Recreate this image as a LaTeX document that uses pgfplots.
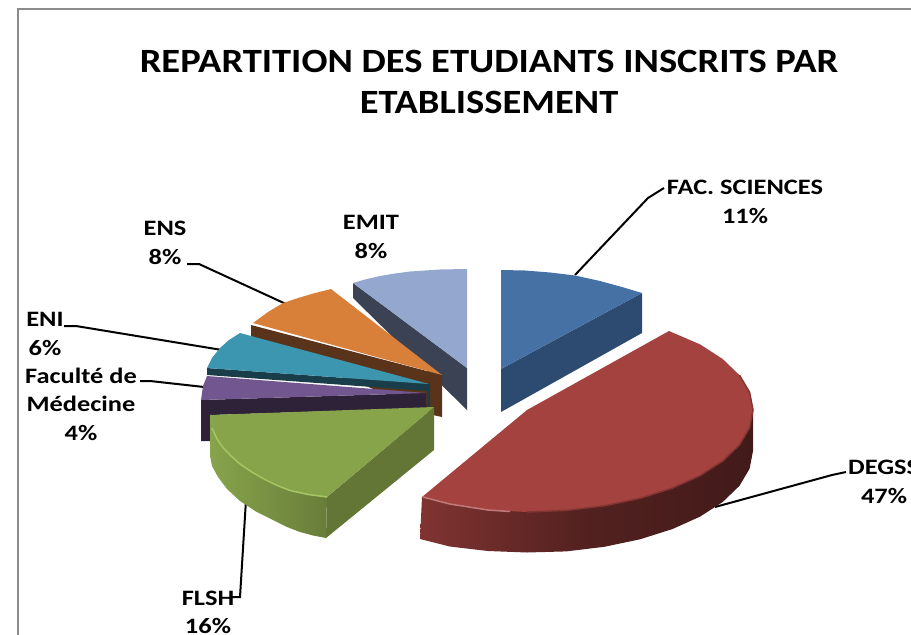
\documentclass[border=0pt]{standalone}
\usepackage{fontspec}
\setmainfont{Carlito}
\usepackage{pgfplots}
\pgfplotsset{compat=1.18}
\definecolor{emitT}{HTML}{93A7CF}\definecolor{emitS}{HTML}{3A4254}
\definecolor{facT}{HTML}{4571A5}\definecolor{facS}{HTML}{2D4A70}
\definecolor{degT}{HTML}{A4423F}
\definecolor{ensT}{HTML}{D8803A}\definecolor{ensS}{HTML}{59331A}
\definecolor{eniT}{HTML}{3D96AF}\definecolor{eniS}{HTML}{1A3D4A}
\definecolor{medT}{HTML}{72568F}\definecolor{medS}{HTML}{2E2238}
\definecolor{flsT}{HTML}{87A44B}\definecolor{flsS}{HTML}{637636}
\definecolor{flsH}{HTML}{A6C664}
\newcommand{\ttl}[1]{\scalebox{1.133}[1]{\bfseries\fontsize{34}{34}\selectfont #1}}
\newcommand{\lbl}[1]{\scalebox{1.2}[1]{\bfseries\fontsize{22}{22}\selectfont #1}}
\begin{document}
\begin{tikzpicture}
\path[use as bounding box,clip] (0,0) rectangle (911pt,635pt);
\begin{axis}[at={(0,0)},anchor=south west,scale only axis,width=911pt,height=635pt,
  xmin=0,xmax=911,ymin=0,ymax=635,y dir=reverse,axis lines=none,clip=false,no markers,
  every axis plot/.append style={forget plot}]
% frame
\addplot[draw=black!45,line width=2pt] coordinates {(911,9)(18,9)(18,635)};
% leaders
\addplot[black,line width=2pt] coordinates {(575,275)(648,198)(664,188)};
\addplot[black,line width=2pt] coordinates {(715,507)(832,475)(846,472)};
\addplot[black,line width=2pt] coordinates {(246,500)(240,597)(232,597)};
\addplot[black,line width=2pt] coordinates {(222,350)(76,326)(64,326)};
\addplot[black,line width=2pt] coordinates {(204,387)(150,381)(140,381)};
\addplot[black,line width=2pt] coordinates {(286,304)(199,264)(187,264)};
% EMIT
\addplot[fill=emitS,draw=none] coordinates {(353,283)(353,298)(467,410)(467,368)};
\addplot[fill=emitT,draw=none] coordinates {(353,283)(365,279.5)(380,276)(395,273.5)(410,271.5)(425,270.5)(440,269.5)(467,269)(467,368)};
% FAC
\addplot[fill=facS,draw=none] coordinates {(501,369)(642,293)(642,333)(501,412)};
\addplot[fill=facT,draw=none] coordinates {(501,270)(525,270.5)(550,272.5)(575,275.5)(600,281)(622,287)(642,293)(501,369)};
% ENS
\addplot[fill=ensS,draw=none] coordinates {(251,325)(251,336)(433,415)(442,417)(442,375)};
\addplot[fill=ensT,draw=none] coordinates {(331,289)(315,293)(298,298)(283,303)(268,312)(253,323)(442,375)};
% ENI
\addplot[fill=eniS,draw=none] coordinates {(207,368)(207,375)(427,391)(427,408)(430,408)(430,384)};
\addplot[fill=eniT,draw=none] coordinates {(240,333)(229,340)(220,348)(212,358)(207,368)(429,384)};
% Medecine
\addplot[fill=medS,draw=none] coordinates {(201,400)(201,441)(212,441)(212,415)(426,408)(426,393)};
\addplot[fill=medT,draw=none] coordinates {(207,376)(203,386)(201,400)(426,393)};
% FLSH
\addplot[fill=flsS,draw=none] coordinates {(327,497)(434,407)(434,450)(326,538)};
\addplot[left color=flsT,right color=flsS!85!flsT,draw=none,shading=axis] coordinates {(210,415)(210,456)(212,466)(218,477)(227,489)(240,501)(256,511.5)(273,520)(287,527)(300,532)(313,535.5)(326,538)(327,497)};
\addplot[fill=flsT,draw=none] coordinates {(434,407)(210,415)(210.5,421)(213,430)(217,439)(223,447.5)(231,456)(240,464)(251,471.5)(263,478.5)(276,485)(290,490.5)(308,494.5)(327,497)};
\addplot[draw=flsH,line width=1.5pt] coordinates {(212,428)(217,439)(223,447.5)(231,456)(240,464)(251,471.5)(263,478.5)(276,485)(290,490.5)(308,494.5)(327,497)};
% DEGSS
\addplot[left color=degT!78!black,right color=degT!40!black,middle color=degT!50!black,draw=none,shading=axis] coordinates {(753,408)(753,451)(749.6,468.7)(739.4,485.9)(722.7,502)(700.1,516.6)(672.3,529.1)(640,539.3)(604.3,546.8)(566.2,551.4)(527,552.5)(487.8,551)(449.7,546.5)(420,539)(422,497)};
\addplot[fill=degT,draw=none] coordinates {(527,410)(669,331)(700.1,344.4)(722.7,359)(739.4,375.1)(749.6,392.3)(753,410)(749.6,427.7)(739.4,444.9)(722.7,461)(700.1,475.6)(672.3,488.1)(640,498.3)(604.3,505.8)(566.2,510.4)(527,512)(487.8,510)(449.7,504)(422,497)};
\addplot[draw=degT!80!black,line width=1.5pt] coordinates {(739.4,375.1)(749.6,392.3)(753,410)(749.6,427.7)(739.4,444.9)(722.7,461)(700.1,475.6)(672.3,488.1)(640,498.3)(604.3,505.8)(566.2,510.4)(527,512)};
\addplot[draw=degT!70!white,line width=1.5pt] coordinates {(423,497)(449.7,504)(487.8,510)(510,511.5)};
% text
\node[anchor=base] at (axis cs:489,72) {\ttl{REPARTITION DES ETUDIANTS INSCRITS PAR}};
\node[anchor=base] at (axis cs:489,113) {\ttl{ETABLISSEMENT}};
\tikzset{lab/.style={anchor=base}}
\node[lab] at (axis cs:745,194) {\lbl{FAC. SCIENCES}};
\node[lab] at (axis cs:745,223) {\lbl{11\%}};
\node[lab,anchor=base west,inner sep=0pt] at (axis cs:848,474) {\lbl{DEGSS}};
\node[lab] at (axis cs:884,503) {\lbl{47\%}};
\node[lab] at (axis cs:208,605) {\lbl{FLSH}};
\node[lab] at (axis cs:208,633) {\lbl{16\%}};
\node[lab] at (axis cs:81,383) {\lbl{Faculté de}};
\node[lab] at (axis cs:81,411) {\lbl{Médecine}};
\node[lab] at (axis cs:81,440) {\lbl{4\%}};
\node[lab] at (axis cs:45,326) {\lbl{ENI}};
\node[lab] at (axis cs:45,355) {\lbl{6\%}};
\node[lab] at (axis cs:165,235) {\lbl{ENS}};
\node[lab] at (axis cs:165,264) {\lbl{8\%}};
\node[lab] at (axis cs:371,229) {\lbl{EMIT}};
\node[lab] at (axis cs:371,258) {\lbl{8\%}};
\end{axis}
\end{tikzpicture}
\end{document}
